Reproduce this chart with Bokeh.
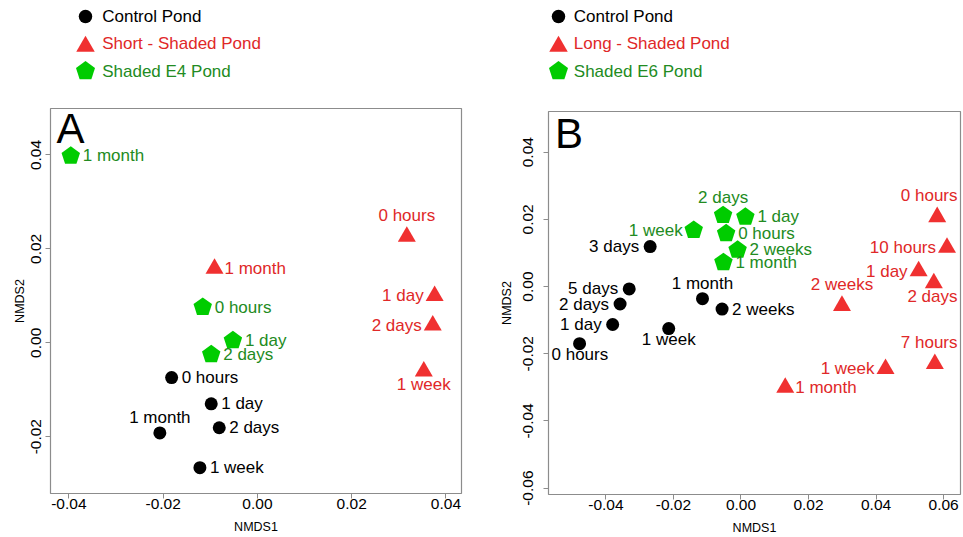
import math
from bokeh.plotting import figure
from bokeh.layouts import row, column
from bokeh.models import Range1d, FixedTicker, PrintfTickFormatter, ColumnDataSource
from bokeh.embed import file_html
from bokeh.resources import INLINE
from bokeh.core.properties import value

FONT = "Liberation Sans"

# ---------------- Panel A data ----------------
ctrlA_labels = ["0 hours", "1 day", "2 days", "1 week", "1 month"]
ctrlA_x = [-0.0182, -0.0098, -0.0081, -0.0122, -0.0207]
ctrlA_y = [-0.0074, -0.0130, -0.0181, -0.0266, -0.0192]
ctrlA_pos = [4, 4, 4, 4, 3]

shortA_labels = ["0 hours", "1 day", "2 days", "1 week", "1 month"]
shortA_x = [0.0317, 0.0376, 0.0372, 0.0353, -0.0091]
shortA_y = [0.0226, 0.0100, 0.0037, -0.0061, 0.0158]
shortA_pos = [3, 2, 2, 1, 4]

e4_labels = ["0 hours", "1 day", "2 days", "1 month"]
e4_x = [-0.0116, -0.0052, -0.0098, -0.0396]
e4_y = [0.0076, 0.0005, -0.0025, 0.0398]
e4_pos = [4, 4, 4, 4]

# ---------------- Panel B data ----------------
ctrlB_labels = ["0 hours", "1 day", "2 days", "3 days", "5 days", "1 week", "2 weeks", "1 month"]
ctrlB_x = [-0.0478, -0.0380, -0.0358, -0.0269, -0.0331, -0.0214, -0.0056, -0.0114]
ctrlB_y = [-0.0170, -0.0113, -0.0052, 0.0119, -0.0007, -0.0125, -0.0067, -0.0036]
ctrlB_pos = [1, 2, 2, 2, 2, 1, 4, 3]

longB_labels = ["0 hours", "7 hours", "10 hours", "1 day", "2 days", "1 week", "2 weeks", "1 month"]
longB_x = [0.0581, 0.0574, 0.0610, 0.0526, 0.0571, 0.0428, 0.0299, 0.0131]
longB_y = [0.0207, -0.0230, 0.0116, 0.0046, 0.0010, -0.0245, -0.0057, -0.0301]
longB_pos = [3, 3, 2, 2, 1, 2, 3, 4]

e6_labels = ["0 hours", "1 day", "2 days", "1 week", "2 weeks", "1 month"]
e6_x = [-0.0044, 0.0013, -0.0053, -0.0140, -0.0010, -0.0052]
e6_y = [0.0158, 0.0207, 0.0212, 0.0168, 0.0109, 0.0072]
e6_pos = [4, 4, 3, 2, 4, 4]

legendA_labels = ["Control Pond", "Short - Shaded Pond", "Shaded E4 Pond"]
legendB_labels = ["Control Pond", "Long - Shaded Pond", "Shaded E6 Pond"]

ticksA_x = [-0.04, -0.02, 0.00, 0.02, 0.04]
ticksA_y = [-0.02, 0.00, 0.02, 0.04]
ticksB_x = [-0.04, -0.02, 0.00, 0.02, 0.04, 0.06]
ticksB_y = [-0.06, -0.04, -0.02, 0.00, 0.02, 0.04]

# ---------------- styles ----------------
BLACK = "#000000"
RED_FILL = "#F03030"
RED_TEXT = "#E02828"
GREEN_FILL = "#00CC00"
GREEN_TEXT = "#228B22"
BOX = "#8C8C8C"
LABEL_PX = 17
LABEL_SIZE = "%dpx" % LABEL_PX
PENT_R = 9.7

# approximate Liberation Sans advance widths (em) used to keep labels inside the frame
CHAR_W = {"0": .556, "1": .556, "2": .556, "3": .556, "5": .556, "7": .556, " ": .278,
          "h": .556, "o": .556, "u": .556, "r": .333, "s": .5, "d": .556, "a": .556,
          "y": .5, "w": .722, "e": .556, "k": .5, "m": .833, "n": .556, "t": .278}


def text_width(t):
    return sum(CHAR_W.get(c, .556) for c in t) * LABEL_PX


def pentagon_patches(p, xs, ys, r_px, color, fw, fh, xr, yr):
    ux = (xr[1] - xr[0]) / fw
    uy = (yr[1] - yr[0]) / fh
    px, py = [], []
    for x, y in zip(xs, ys):
        vx, vy = [], []
        for k in range(5):
            a = math.radians(90 + 72 * k)
            vx.append(x + r_px * math.cos(a) * ux)
            vy.append(y + r_px * math.sin(a) * uy)
        px.append(vx)
        py.append(vy)
    p.patches(px, py, fill_color=color, line_color=None)


def add_labels(p, xs, ys, labels, pos, color, above, below, right, fw, xr):
    # offsets are from the point to the centre of the text (baseline "middle")
    cfg = {
        1: dict(y_offset=below, text_align="center"),
        2: dict(y_offset=0, text_align="right"),
        3: dict(y_offset=-above, text_align="center"),
        4: dict(y_offset=0, text_align="left"),
    }
    for code, c in cfg.items():
        idx = [i for i, q in enumerate(pos) if q == code]
        if not idx:
            continue
        xo = []
        for i in idx:
            if code == 2:
                xo.append(-11)
            elif code == 4:
                xo.append(right)
            else:
                sx = (xs[i] - xr[0]) / (xr[1] - xr[0]) * fw
                half = text_width(labels[i]) / 2
                off = 0.0
                if sx + half > fw - 3:
                    off = (fw - 3 - half) - sx
                if sx - half < 3:
                    off = 3 + half - sx
                xo.append(off)
        src = ColumnDataSource(dict(x=[xs[i] for i in idx], y=[ys[i] for i in idx],
                                    t=[labels[i] for i in idx], xo=xo))
        p.text(x="x", y="y", text="t", source=src, x_offset="xo", text_font=value(FONT),
               text_font_size=LABEL_SIZE, text_color=color, text_baseline="middle", **c)


def make_plot(width, height, bl, br, bt, bb, xr, yr, xt, yt, letter,
              ystand, ytitle_stand, letter_dx, letter_dy, series):
    p = figure(width=width, height=height, x_range=Range1d(*xr), y_range=Range1d(*yr),
               output_backend="svg", toolbar_location=None,
               min_border_left=bl, min_border_right=br, min_border_top=bt, min_border_bottom=bb)
    p.grid.visible = False
    p.background_fill_color = "white"
    p.border_fill_color = "white"
    p.outline_line_color = BOX
    p.outline_line_width = 1.2
    p.xaxis.ticker = FixedTicker(ticks=xt)
    p.yaxis.ticker = FixedTicker(ticks=yt)
    for ax in (p.xaxis[0], p.yaxis[0]):
        ax.formatter = PrintfTickFormatter(format="%.2f")
        ax.axis_line_color = None
        ax.major_tick_line_color = BOX
        ax.major_tick_out = 5
        ax.major_tick_in = 0
        ax.minor_tick_line_color = None
        ax.major_label_text_font = FONT
        ax.major_label_text_font_size = "15.5px"
        ax.major_label_text_color = "black"
        ax.axis_label_text_font = FONT
        ax.axis_label_text_font_size = "12.5px"
        ax.axis_label_text_font_style = "normal"
        ax.axis_label_text_color = "black"
    p.xaxis.axis_label = "NMDS1"
    p.yaxis.axis_label = "NMDS2"
    p.xaxis.major_label_standoff = 0
    p.xaxis.axis_label_standoff = 8
    p.yaxis.major_label_standoff = ystand
    p.yaxis.axis_label_standoff = ytitle_stand
    p.yaxis.major_label_orientation = "vertical"

    fw = width - bl - br
    fh = height - bt - bb
    for s in series:
        kind, xs, ys, labels, pos = s
        if kind == "circle":
            p.scatter(xs, ys, marker="circle", size=13, fill_color=BLACK, line_color=None)
            add_labels(p, xs, ys, labels, pos, BLACK, 15, 11, 10, fw, xr)
        elif kind == "triangle":
            p.scatter(xs, ys, marker="triangle", size=18, fill_color=RED_FILL, line_color=None)
            add_labels(p, xs, ys, labels, pos, RED_TEXT, 21, 13, 10, fw, xr)
        else:
            pentagon_patches(p, xs, ys, PENT_R, GREEN_FILL, fw, fh, xr, yr)
            add_labels(p, xs, ys, labels, pos, GREEN_TEXT, 18, 13, 12, fw, xr)

    lx = xr[0] + letter_dx * (xr[1] - xr[0]) / fw
    ly = yr[1] - letter_dy * (yr[1] - yr[0]) / fh
    p.text(x=[lx], y=[ly], text=[letter], text_font=value(FONT), text_font_size="42px",
           text_color="black", text_baseline="middle", text_align="left")
    return p


LEG_TOP = 16
LEG_STEP = 27.3


def make_legend(width, height, bl, br, marker_x, text_x, labels):
    fw = width - bl - br
    p = figure(width=width, height=height, x_range=Range1d(0, fw), y_range=Range1d(height, 0),
               output_backend="svg", toolbar_location=None, x_axis_type=None, y_axis_type=None,
               min_border_left=bl, min_border_right=br, min_border_top=0, min_border_bottom=0)
    p.grid.visible = False
    p.outline_line_color = None
    rows = [LEG_TOP + i * LEG_STEP for i in range(len(labels))]
    p.scatter([marker_x], [rows[0]], marker="circle", size=13.5, fill_color=BLACK, line_color=None)
    p.scatter([marker_x], [rows[1] + 2.6], marker="triangle", size=18.5, fill_color=RED_FILL,
              line_color=None)
    pentagon_patches(p, [marker_x], [rows[2]], 10, GREEN_FILL, fw, height, (0, fw), (height, 0))
    src = ColumnDataSource(dict(x=[text_x] * len(labels), y=rows, t=labels,
                                c=[BLACK, RED_TEXT, GREEN_TEXT]))
    p.text(x="x", y="y", text="t", text_color="c", source=src, text_font=value(FONT),
           text_font_size="17px", text_baseline="middle", text_align="left")
    return p


WA, WB = 470, 493
LEGA_H, LEGB_H = 98, 101
HA, HB = 537 - LEGA_H, 537 - LEGB_H

figA = make_plot(WA, HA, 50, 9, 10, HA - 10 - 385, (-0.0439, 0.0433), (-0.0321, 0.0499),
                 ticksA_x, ticksA_y, "A", 4, 2, 6, 20,
                 [("pentagon", e4_x, e4_y, e4_labels, e4_pos),
                  ("triangle", shortA_x, shortA_y, shortA_labels, shortA_pos),
                  ("circle", ctrlA_x, ctrlA_y, ctrlA_labels, ctrlA_pos)])
figB = make_plot(WB, HB, 78, 3, 10, HB - 10 - 385, (-0.0570, 0.0650), (-0.0619, 0.0521),
                 ticksB_x, ticksB_y, "B", 10, 7, 6.5, 22,
                 [("pentagon", e6_x, e6_y, e6_labels, e6_pos),
                  ("triangle", longB_x, longB_y, longB_labels, longB_pos),
                  ("circle", ctrlB_x, ctrlB_y, ctrlB_labels, ctrlB_pos)])

legA = make_legend(WA, LEGA_H, 50, 9, 35, 51.7, legendA_labels)
legB = make_legend(WB, LEGB_H, 78, 3, 10, 25.3, legendB_labels)

layout = row(column(legA, figA), column(legB, figB))
open("out.html", "w").write(file_html(layout, INLINE))
